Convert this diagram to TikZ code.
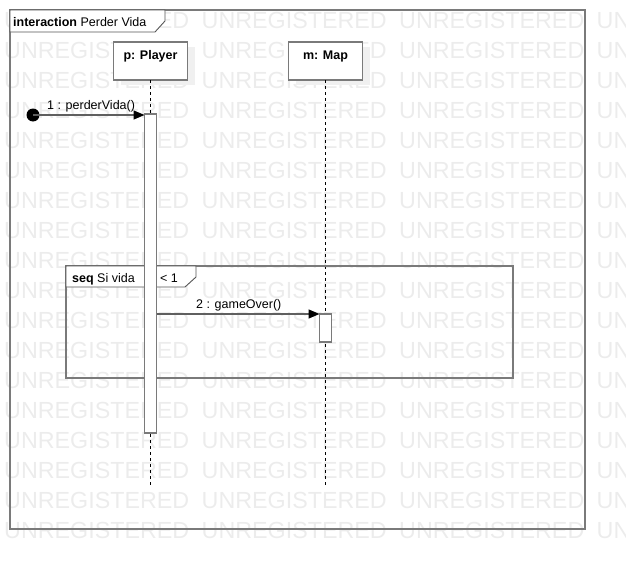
\documentclass[tikz,border=0pt]{standalone}
\usepackage{fontspec}
\setmainfont{Liberation Sans}
\usetikzlibrary{arrows.meta}
\definecolor{wmcol}{RGB}{236,236,236}
\definecolor{bord}{RGB}{122,122,122}
\definecolor{msgcol}{RGB}{95,95,95}
\definecolor{lblcol}{RGB}{85,85,85}
\definecolor{shadowcol}{RGB}{240,240,240}
\tikzset{
  wm/.style={inner sep=0pt, anchor=base west, text=wmcol, font=\fontsize{23.3}{28}\selectfont},
  txt/.style={inner sep=0pt, anchor=base west, font=\fontsize{12.5}{15}\selectfont},
  ctxt/.style={inner sep=0pt, anchor=base, font=\fontsize{12.5}{15}\selectfont\bfseries},
  frame/.style={draw=bord, line width=1.6pt, rectangle, inner sep=0pt, outer sep=0pt},
  objbox/.style={draw=bord, line width=1.8pt, fill=white, rectangle, inner sep=0pt, outer sep=0pt,
                 minimum width=74pt, minimum height=38pt},
  shadowbox/.style={fill=shadowcol, rectangle, inner sep=0pt, outer sep=0pt,
                 minimum width=74pt, minimum height=38pt},
  actbar/.style={draw=bord, line width=1.6pt, fill=white, rectangle, inner sep=0pt, outer sep=0pt, minimum width=12pt},
  lifeline/.style={draw=black, line width=0.9pt, dash pattern=on 3pt off 3pt},
  msg/.style={draw=msgcol, line width=1.4pt, -{Triangle[length=11pt,width=9pt,fill=black,color=black]}},
  tag/.style={draw=lblcol, line width=0.9pt, fill=white},
}
\begin{document}
\begin{tikzpicture}[x=1pt,y=-1pt]
\useasboundingbox (0,0) rectangle (626,570);
% watermark
\begin{scope}
\clip (0,0) rectangle (626,570);
\foreach \k in {0,...,17}{
  \foreach \j in {0,...,2}{
    \node[wm] (wm-\j-\k) at ({4+197.5*\j},{28.4+30*\k}) {UNREGISTERED};
  }
  \node[wm] (wm-3-\k) at ({4+197.5*3},{28.4+30*\k}) {UN};
}
\end{scope}
% interaction frame
\node[frame, minimum width=575pt, minimum height=519pt] (frame) at (297.5,269.5) {};
\draw[tag] (frame.north west) -- ++(155,0) -- ++(0,11) -- ++(-10,11) -- ++(-145,0) -- cycle;
\node[txt] (ftitle) at (13,26) {\textbf{interaction} Perder Vida};
% shadows
\node[shadowbox] (pshadow) at (157.5,66) {};
\node[shadowbox] (mshadow) at (332.5,66) {};
% lifeline heads
\node[objbox] (player) at (150.5,61) {};
\node[objbox] (map) at (325.5,61) {};
\node[ctxt] (ptxt) at (150.5,59.5) {p: Player};
\node[ctxt] (mtxt) at (325.5,59.5) {m: Map};
% lifelines
\coordinate (pend) at (150.5,487);
\coordinate (mend) at (325.5,487);
\draw[lifeline] (player.south) -- (pend);
\draw[lifeline] (map.south) -- (mend);
% combined fragment
\node[frame, line width=1.4pt, minimum width=447pt, minimum height=112pt] (frag) at (289.5,322) {};
\draw[tag] (frag.north west) -- ++(130,0) -- ++(0,11) -- ++(-11,10) -- ++(-119,0) -- cycle;
\node[txt] (fragtxt) at (72,282) {\textbf{seq} Si vida};
\node[txt] (guard) at (160,282) {< 1};
% activation bars
\node[actbar, minimum height=319pt] (pbar) at (150.5,273.5) {};
\node[actbar, minimum height=28pt] (mbar) at (325.5,328) {};
% found message
\node[circle, fill=black, inner sep=0pt, minimum size=13pt] (start) at (33,115) {};
\draw[msg] (start.center) -- (start -| pbar.west);
\node[txt] (m1) at (47,109) {1 : perderVida()};
% message 2
\draw[msg] (pbar.east |- mbar.north) -- (mbar.north west);
\node[txt] (m2) at (196,308) {2 : gameOver()};
\end{tikzpicture}
\end{document}
